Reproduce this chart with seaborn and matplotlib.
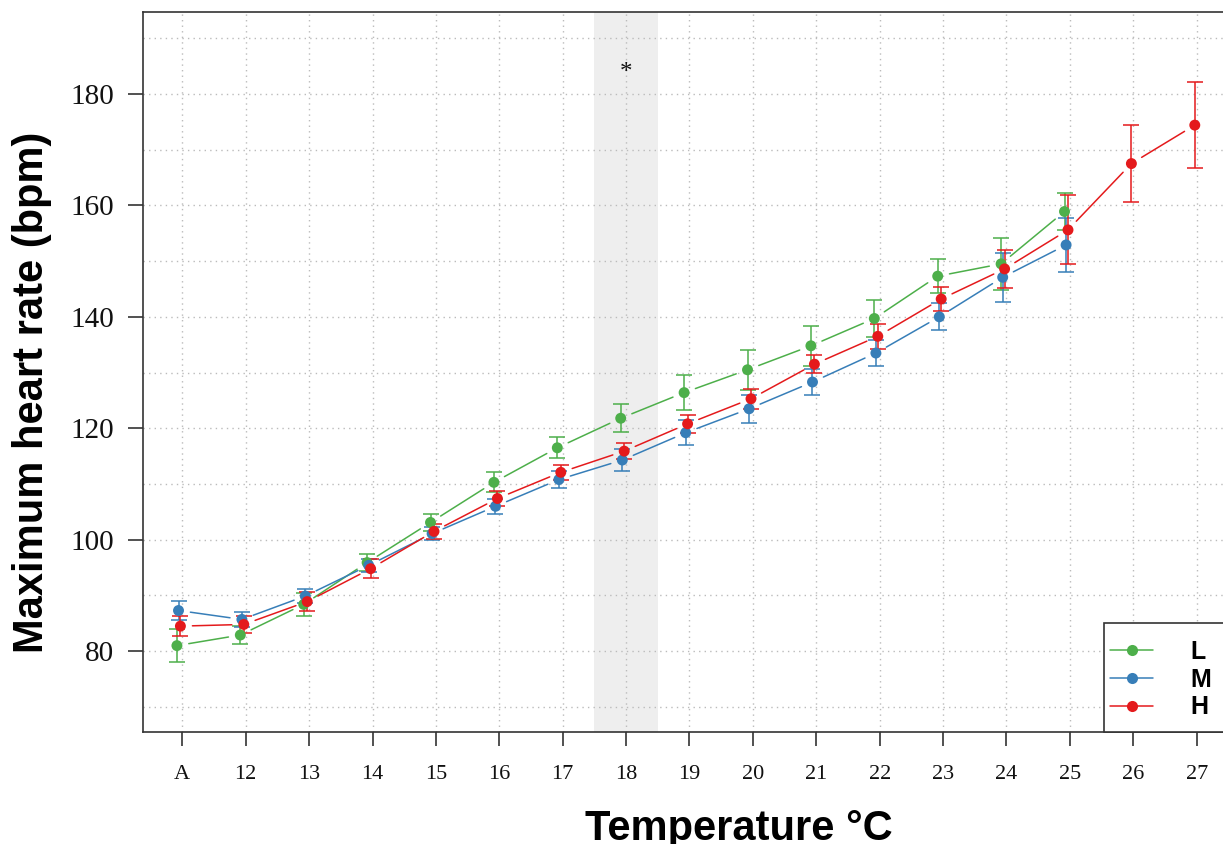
import numpy as np
import pandas as pd
import matplotlib
matplotlib.use("Agg")
import matplotlib.pyplot as plt
from matplotlib.lines import Line2D
from matplotlib.patches import Rectangle
from matplotlib.ticker import MultipleLocator
import seaborn as sns

# temperature steps (A = acclimation)
temps = ['A', '12', '13', '14', '15', '16', '17', '18', '19', '20',
         '21', '22', '23', '24', '25', '26', '27']

# mean max heart rate and error per group
L_mean = [81.0, 82.9, 88.4, 95.9, 103.1, 110.3, 116.5, 121.8, 126.4, 130.5,
          134.8, 139.7, 147.3, 149.5, 158.9]
L_err = [3.0, 1.6, 2.0, 1.5, 1.6, 1.8, 1.9, 2.5, 3.2, 3.6,
         3.6, 3.4, 3.0, 4.7, 3.3]
M_mean = [87.3, 85.7, 89.9, 95.4, 101.1, 106.0, 110.8, 114.3, 119.2, 123.5,
          128.3, 133.5, 140.0, 147.1, 152.9]
M_err = [1.7, 1.3, 1.2, 1.2, 1.2, 1.3, 1.6, 2.0, 2.2, 2.5,
         2.4, 2.4, 2.4, 4.4, 4.8]
H_mean = [84.5, 84.8, 88.9, 94.8, 101.5, 107.4, 112.1, 115.9, 120.8, 125.3,
          131.5, 136.5, 143.2, 148.6, 155.6, 167.5, 174.4]
H_err = [1.8, 1.5, 1.7, 1.7, 1.3, 1.3, 1.4, 1.5, 1.6, 1.8,
         1.6, 2.2, 2.2, 3.4, 6.2, 6.9, 7.7]

groups = ['L', 'M', 'H']
colors = {'L': '#4DAF4A', 'M': '#377EB8', 'H': '#E41A1C'}
offsets = {'L': -0.085, 'M': -0.06, 'H': -0.03}

means = {'L': L_mean, 'M': M_mean, 'H': H_mean}
errs = {'L': L_err, 'M': M_err, 'H': H_err}

rows = []
for g in groups:
    for i, (m, e) in enumerate(zip(means[g], errs[g])):
        rows.append({'group': g, 'pos': i + offsets[g], 'hr': m, 'err': e})
df = pd.DataFrame(rows)

sns.set_theme(style='ticks')
plt.rcParams['font.family'] = ['Liberation Serif', 'DejaVu Serif']

fig = plt.figure(figsize=(12.23, 8.44), dpi=100)
ax = fig.add_axes([143 / 1223, 1 - 732 / 844, 1093 / 1223, 720 / 844])

ax.set_xlim(-0.62, 16.62)
ax.set_ylim(65.5, 194.7)

# shaded significant temperature
ax.axvspan(6.5, 7.5, color='#eeeeee', lw=0, zorder=0)

# error bars
for g in groups:
    sub = df[df.group == g]
    ax.errorbar(sub.pos, sub.hr, yerr=sub.err, fmt='none', ecolor=colors[g],
                elinewidth=1.1, capsize=5.5, capthick=1.1, zorder=3)

# connecting lines with gaps around the points (like R type="b")
gap = 12  # pixels
trans = ax.transData
for g in groups:
    sub = df[df.group == g].reset_index(drop=True)
    pts = trans.transform(sub[['pos', 'hr']].to_numpy())
    for i in range(len(pts) - 1):
        p0, p1 = pts[i], pts[i + 1]
        d = p1 - p0
        dist = np.hypot(*d)
        if dist <= 2 * gap:
            continue
        u = d / dist
        seg = trans.inverted().transform([p0 + u * gap, p1 - u * gap])
        ax.plot(seg[:, 0], seg[:, 1], color=colors[g], lw=1.1, zorder=3)

sns.scatterplot(data=df, x='pos', y='hr', hue='group', palette=colors, s=62,
                edgecolor='none', linewidth=0, legend=False, ax=ax, zorder=4)

ax.text(7, 182.7, '*', ha='center', va='baseline', fontsize=18, color='#111111')

ax.set_xticks(range(len(temps)))
ax.set_xticklabels(temps)
ax.set_yticks(range(80, 181, 20))
ax.yaxis.set_minor_locator(MultipleLocator(10))

ax.grid(True, which='both', color='#bbbbbb', lw=1.0, ls=(0, (1, 3)), zorder=1)
ax.set_axisbelow(True)

ax.tick_params(axis='x', length=10, width=1.2, color='#333333', pad=14,
               labelsize=16, labelcolor='#111111')
ax.tick_params(axis='y', length=11, width=1.2, color='#333333', pad=10,
               labelsize=21, labelcolor='#111111')
ax.tick_params(axis='y', which='minor', length=0)

for side in ['left', 'bottom', 'top']:
    ax.spines[side].set_color('#333333')
    ax.spines[side].set_linewidth(1.2)
ax.spines['right'].set_visible(False)

ax.set_xlabel('Temperature °C', fontsize=30, fontweight='bold', color='black',
              family=['Liberation Sans', 'DejaVu Sans'])
ax.set_ylabel('Maximum heart rate (bpm)', fontsize=30, fontweight='bold', color='black',
              family=['Liberation Sans', 'DejaVu Sans'])
ax.xaxis.set_label_coords(739 / 1223, 1 - 840 / 844, transform=fig.transFigure)
ax.xaxis.label.set_va('baseline')
ax.yaxis.set_label_coords(32 / 1223, 1 - 392 / 844, transform=fig.transFigure)
ax.yaxis.label.set_va('center')

# legend box in the lower right corner
ax.add_patch(Rectangle((0.879, 0), 0.2, 0.1514, transform=ax.transAxes,
                       facecolor='white', edgecolor='#333333', lw=1.2,
                       clip_on=False, zorder=5))
handles = [Line2D([0], [0], color=colors[g], lw=1.1, marker='o', markersize=8,
                  markeredgewidth=0) for g in groups]
leg = ax.legend(handles, groups, loc='upper left', bbox_to_anchor=(0.885, 0.128),
                frameon=False, borderpad=0, borderaxespad=0, handlelength=1.7,
                handletextpad=1.5, labelspacing=0.15,
                prop=dict(family=['Liberation Sans', 'DejaVu Sans'], weight='bold', size=18))
leg.set_zorder(6)
for t in leg.get_texts():
    t.set_color('black')

fig.savefig('out.png', dpi=100)
